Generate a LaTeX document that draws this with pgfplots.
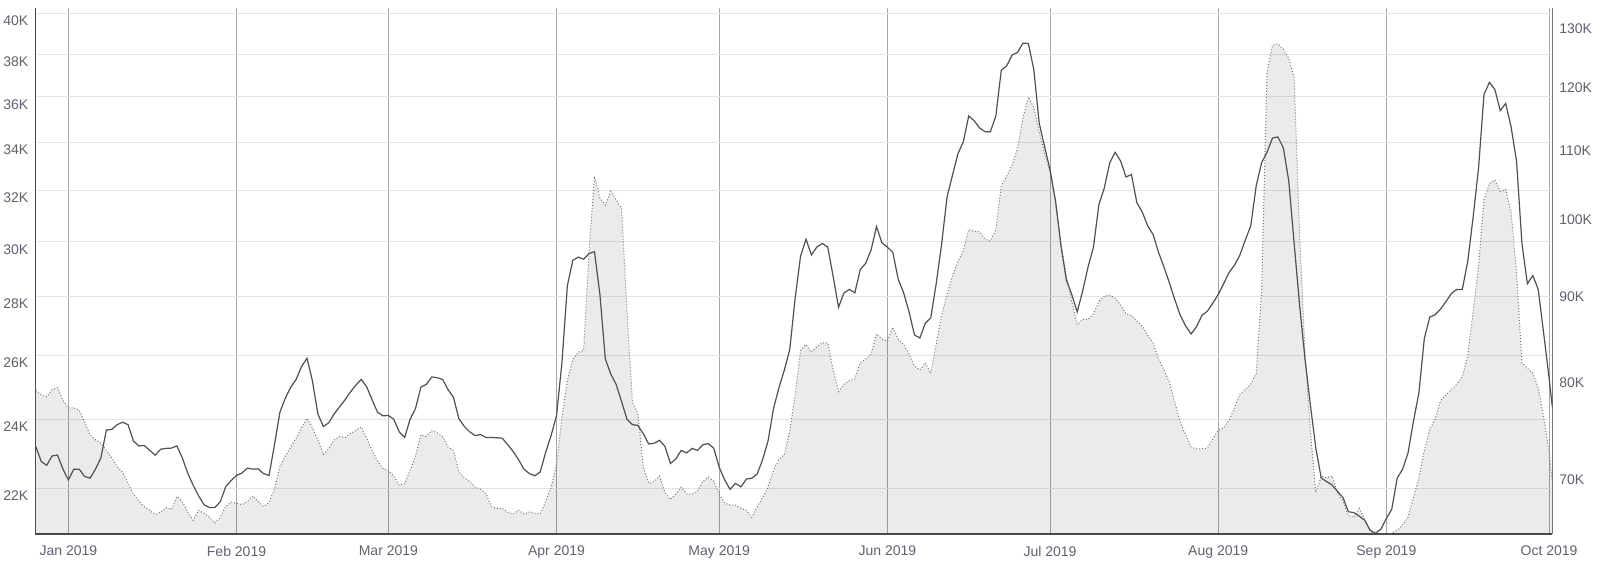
\documentclass[border=0pt]{standalone}
\usepackage{pgfplots}
\pgfplotsset{compat=1.18}
\usepackage{pgfplotstable}
\usepackage{fontspec}
\setmainfont{Liberation Sans}
\definecolor{labc}{RGB}{96,96,112}
\definecolor{gridx}{RGB}{165,165,165}
\definecolor{gridy}{RGB}{228,228,228}
\definecolor{linec}{RGB}{80,80,80}
\definecolor{dotc}{RGB}{120,120,120}

\pgfplotstableread{
d v
-6 24.88
-5 24.74
-4 24.68
-3 24.91
-2 24.97
-1 24.57
0 24.34
1 24.34
2 24.28
3 23.90
4 23.53
5 23.38
6 23.28
7 23.07
8 22.86
9 22.60
10 22.45
11 22.14
12 21.84
13 21.64
14 21.50
15 21.40
16 21.28
17 21.35
18 21.47
19 21.42
20 21.77
21 21.64
22 21.35
23 21.13
24 21.40
25 21.32
26 21.21
27 21.06
28 21.21
29 21.50
30 21.62
31 21.59
32 21.55
33 21.64
34 21.79
35 21.64
36 21.50
37 21.61
38 21.98
39 22.60
40 22.91
41 23.17
42 23.43
43 23.74
44 24.03
45 23.74
46 23.38
47 22.96
48 23.12
49 23.38
50 23.48
51 23.45
52 23.57
53 23.66
54 23.77
55 23.43
56 23.07
57 22.76
58 22.55
59 22.50
60 22.34
61 22.08
62 22.13
63 22.50
64 22.91
65 23.53
66 23.48
67 23.66
68 23.59
69 23.48
70 23.17
71 23.07
72 22.45
73 22.29
74 22.19
75 22.03
76 21.98
77 21.84
78 21.50
79 21.45
80 21.45
81 21.35
82 21.30
83 21.40
84 21.30
85 21.35
86 21.32
87 21.30
88 21.64
89 22.03
90 22.65
91 24.06
92 25.19
93 25.88
94 26.11
95 26.17
96 29.66
97 32.58
98 31.70
99 31.42
100 31.97
101 31.63
102 31.29
103 27.46
104 24.51
105 24.17
106 22.60
107 22.13
108 22.19
109 22.34
110 21.88
111 21.69
112 21.84
113 22.03
114 21.84
115 21.84
116 21.93
117 22.19
118 22.31
119 22.19
120 21.84
121 21.59
122 21.54
123 21.54
124 21.45
125 21.40
126 21.21
127 21.50
128 21.74
129 22.03
130 22.50
131 22.81
132 22.96
133 23.64
134 24.74
135 26.17
136 26.36
137 26.11
138 26.29
139 26.42
140 26.42
141 25.53
142 24.85
143 25.08
144 25.19
145 25.25
146 25.76
147 25.88
148 26.05
149 26.72
150 26.54
151 26.48
152 26.94
153 26.54
154 26.36
155 26.05
156 25.65
157 25.53
158 25.76
159 25.42
160 26.36
161 27.34
162 28.08
163 28.74
164 29.26
165 29.66
166 30.47
167 30.40
168 30.38
169 30.10
170 30.03
171 30.47
172 32.20
173 32.58
174 33.05
175 33.74
176 35.06
177 36.00
178 35.53
179 34.44
180 33.51
181 32.74
182 31.56
183 29.92
184 28.74
185 27.83
186 27.03
187 27.21
188 27.21
189 27.40
190 27.83
191 28.01
192 28.05
193 27.95
194 27.71
195 27.40
196 27.34
197 27.15
198 26.97
199 26.66
200 26.42
201 25.88
202 25.53
203 25.14
204 24.51
205 23.90
206 23.53
207 23.17
208 23.12
209 23.12
210 23.14
211 23.41
212 23.66
213 23.74
214 23.97
215 24.34
216 24.76
217 24.91
218 25.08
219 25.42
220 28.21
221 37.15
222 38.41
223 38.50
224 38.23
225 37.80
226 36.90
227 30.33
228 26.11
229 23.64
230 21.88
231 22.34
232 22.29
233 22.34
234 21.88
235 21.64
236 21.25
237 21.21
238 21.45
239 21.16
240 20.87
241 20.72
242 20.72
243 20.72
244 20.80
245 20.87
246 21.01
247 21.21
248 21.74
249 22.29
250 23.07
251 23.69
252 24.00
253 24.57
254 24.74
255 24.91
256 25.08
257 25.31
258 25.99
259 27.46
260 29.13
261 31.63
262 32.28
263 32.43
264 31.97
265 32.05
266 31.15
267 28.87
268 25.76
269 25.59
270 25.42
271 24.97
272 24.06
273 23.07
273.6 22.19
}\areadata

\pgfplotstableread{
d v
-6 72.54
-5 71.06
-4 70.69
-3 71.61
-2 71.69
-1 70.32
0 69.29
1 70.32
2 70.32
3 69.62
4 69.46
5 70.32
6 71.43
7 74.20
8 74.27
9 74.75
10 75.01
11 74.75
12 73.09
13 72.60
14 72.64
15 72.16
16 71.69
17 72.27
18 72.35
19 72.39
20 72.60
21 71.43
22 69.95
23 68.79
24 67.80
25 66.97
26 66.71
27 66.71
28 67.24
29 68.63
30 69.22
31 69.72
32 69.95
33 70.43
34 70.32
35 70.35
36 69.88
37 69.72
38 72.72
39 76.04
40 77.52
41 78.70
42 79.56
43 80.97
44 81.89
45 79.37
46 75.86
47 74.57
48 74.94
49 75.86
50 76.60
51 77.34
52 78.19
53 78.93
54 79.56
55 78.74
56 77.34
57 76.04
58 75.67
59 75.70
60 75.31
61 74.01
62 73.45
63 75.31
64 76.42
65 78.71
66 79.00
67 79.82
68 79.74
69 79.56
70 78.45
71 77.60
72 75.38
73 74.57
74 74.01
75 73.64
76 73.75
77 73.45
78 73.45
79 73.42
80 73.38
81 72.72
82 72.05
83 71.24
84 70.32
85 69.89
86 69.69
87 70.06
88 71.98
89 73.64
90 75.68
91 81.39
92 90.47
93 93.66
94 94.08
95 93.80
96 94.55
97 94.78
98 89.37
99 81.81
100 80.13
101 79.00
102 77.15
103 75.31
104 74.75
105 74.68
106 73.83
107 72.79
108 72.87
109 73.16
110 72.54
111 70.87
112 71.32
113 72.16
114 71.91
115 72.35
116 72.16
117 72.72
118 72.83
119 72.35
120 70.50
121 69.29
122 68.40
123 68.96
124 68.63
125 69.36
126 69.46
127 69.86
128 71.24
129 73.09
130 76.42
131 78.63
132 80.55
133 82.86
134 88.95
135 94.22
136 96.42
137 94.36
138 95.39
139 95.86
140 95.39
141 91.64
142 87.82
143 89.58
144 90.00
145 89.58
146 92.48
147 93.28
148 95.01
149 98.11
150 95.95
151 95.39
152 94.69
153 91.27
154 89.58
155 87.27
156 84.54
157 84.20
158 85.92
159 86.55
160 90.70
161 95.76
162 102.16
163 105.28
164 108.39
165 110.23
166 114.20
167 113.46
168 112.33
169 111.76
170 111.76
171 114.20
172 121.59
173 122.33
174 124.18
175 124.61
176 126.21
177 126.15
178 121.71
179 113.06
180 109.43
181 106.05
182 101.64
183 95.62
184 91.17
185 89.37
186 87.27
187 89.79
188 92.81
189 95.39
190 101.12
191 103.46
192 107.09
193 108.65
194 107.35
195 105.02
196 105.38
197 101.38
198 100.08
199 98.20
200 97.03
201 94.69
202 92.81
203 90.80
204 88.74
205 86.85
206 85.59
207 84.66
208 85.50
209 86.85
210 87.35
211 88.32
212 89.37
213 90.70
214 92.11
215 93.05
216 94.36
217 96.33
218 98.20
219 103.72
220 107.09
221 108.65
222 110.79
223 110.96
224 109.33
225 104.50
226 95.86
227 88.11
228 81.81
229 76.79
230 72.35
231 69.46
232 69.13
233 68.80
234 68.20
235 67.64
236 66.32
237 66.25
238 65.92
239 65.56
240 64.66
241 64.40
242 64.76
243 65.72
244 66.55
245 69.46
246 70.32
247 71.91
248 75.12
249 78.08
250 84.12
251 86.64
252 86.93
253 87.61
254 88.53
255 89.50
256 90.00
257 90.00
258 93.51
259 99.37
260 106.31
261 117.60
262 119.59
263 118.45
264 115.05
265 116.18
266 112.50
267 107.35
268 95.86
269 90.70
270 91.73
271 90.00
272 84.75
273 79.74
273.6 76.60
}\linedata

\begin{document}
\begin{tikzpicture}
\path[use as bounding box] (0,0) rectangle (800pt,282pt);
\begin{axis}[
  at={(17.65pt,15pt)}, anchor=south west,
  scale only axis, width=758.5pt, height=262.85pt,
  xmin=-6.1, xmax=273.6,
  ymode=log, ymin=20.77, ymax=40.25,
  xtick={0,31,59,90,120,151,181,212,243,273},
  xticklabels={Jan 2019,Feb 2019,Mar 2019,Apr 2019,May 2019,Jun 2019,Jul 2019,Aug 2019,Sep 2019,Oct 2019},
  ytick={22,24,26,28,30,32,34,36,38,40},
  yticklabels={22K,24K,26K,28K,30K,32K,34K,36K,38K,40K},
  minor tick num=0,
  major tick length=0pt,
  axis x line*=bottom, axis y line*=left,
  axis line style={draw=black!70, line width=0.6pt},
  xmajorgrids, ymajorgrids,
  major x grid style={draw=gridx, line width=0.5pt},
  major y grid style={draw=gridy, line width=0.5pt},
  xticklabel style={font=\fontsize{7}{8}\selectfont, text=labc, yshift=-2.5pt},
  yticklabel style={font=\fontsize{7}{8}\selectfont, text=labc, yshift=-3.7pt},
]
\addplot[draw=none, fill=black, fill opacity=0.08] table[x=d, y=v] {\areadata} \closedcycle;
\addplot[draw=dotc, line width=0.5pt, densely dotted] table[x=d, y=v] {\areadata};
\end{axis}
\begin{axis}[
  at={(17.65pt,15pt)}, anchor=south west,
  scale only axis, width=758.5pt, height=262.85pt,
  xmin=-6.1, xmax=273.6,
  ymode=log, ymin=64.33, ymax=132.4,
  hide x axis,
  axis y line*=right,
  ytick={70,80,90,100,110,120,130},
  yticklabels={70K,80K,90K,100K,110K,120K,130K},
  minor tick num=0,
  major tick length=0pt,
  axis line style={draw=black!55, line width=0.6pt},
  yticklabel style={font=\fontsize{7}{8}\selectfont, text=labc, yshift=-3.7pt},
]
\addplot[draw=linec, line width=0.6pt] table[x=d, y=v] {\linedata};
\end{axis}
\end{tikzpicture}
\end{document}
